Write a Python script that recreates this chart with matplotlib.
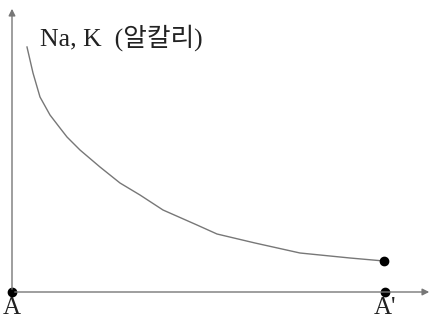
import matplotlib.pyplot as plt

# curve (origin at A)
curve_x = [15, 21, 28, 38, 48, 55, 68, 88, 108, 128, 151, 185, 205, 243, 288, 338, 372]
curve_y = [245, 219, 195, 177, 164, 155, 142, 125, 109, 97, 82, 67, 58, 49, 39, 34, 31]
label = "Na, K  (알칼리)"
end_x = 373

fig = plt.figure(figsize=(4.35, 3.22), dpi=100)
ax = fig.add_axes([0, 0, 1, 1])
ax.set_xlim(-12, 423)
ax.set_ylim(-30, 292)
ax.axis('off')

axis_col = '#777777'
ax.annotate('', xy=(0, 286), xytext=(0, 0),
            arrowprops=dict(arrowstyle='-|>', color=axis_col, lw=1.0, mutation_scale=10))
ax.annotate('', xy=(420, 0), xytext=(0, 0),
            arrowprops=dict(arrowstyle='-|>', color=axis_col, lw=1.0, mutation_scale=10))

ax.plot(curve_x, curve_y, color='#777777', lw=1.0)
ax.plot([curve_x[-1]], [curve_y[-1]], 'o', color='black', ms=6)
ax.plot([0, end_x], [0, 0], 'o', color='black', ms=6, clip_on=False)

fonts = ['Liberation Serif', 'Noto Sans CJK KR']
ax.text(28, 254, label, family=fonts, fontsize=18.5, va='center', ha='left', color='#222222')
ax.text(0, -5, 'A', family=fonts, fontsize=18, va='top', ha='center', color='#222222')
ax.text(end_x, -5, "A'", family=fonts, fontsize=18, va='top', ha='center', color='#222222')

fig.savefig('out.png', dpi=100)
